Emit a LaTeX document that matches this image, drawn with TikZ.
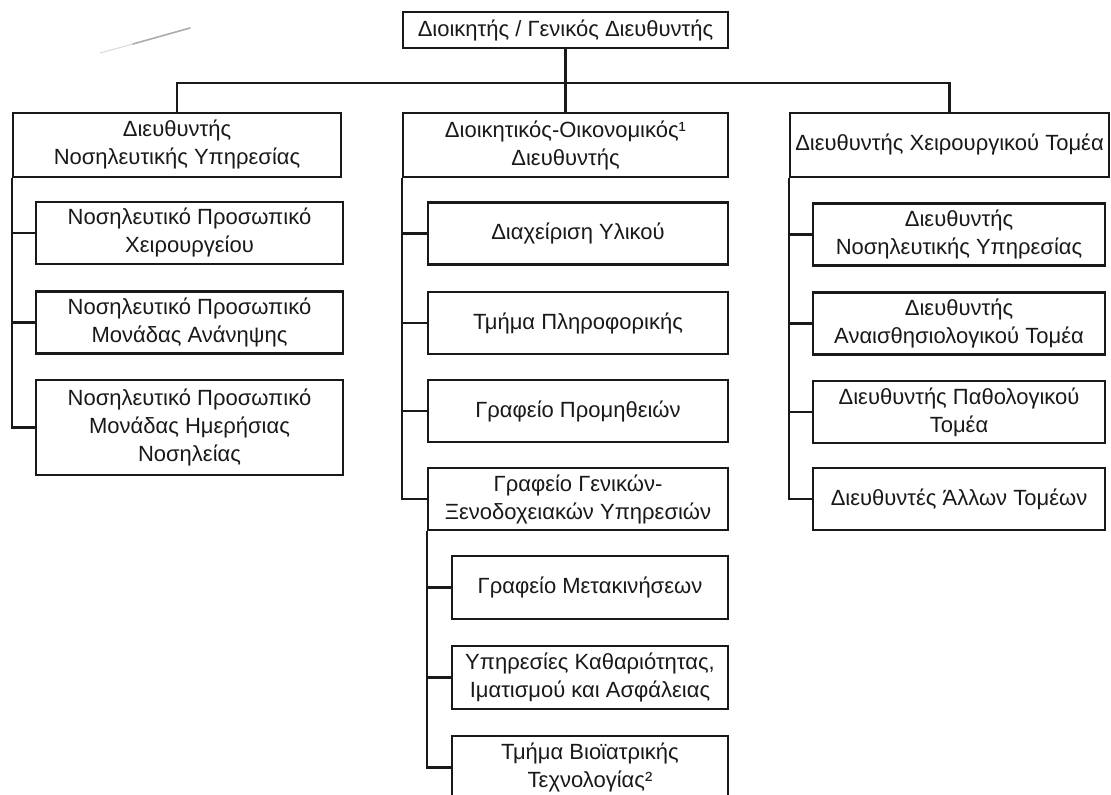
\documentclass[tikz,border=0pt]{standalone}
\usepackage{fontspec}
\setmainfont{Liberation Sans}

\begin{document}
\begin{tikzpicture}[x=0.5pt, y=-0.5pt,
  box/.style={draw=black!90, rectangle, line width=1.1pt, inner sep=2pt, align=center, text=black!90, font=\fontsize{11pt}{14pt}\selectfont},
  head/.style={box, minimum height=32pt},
  lchild/.style={box, minimum width=153.5pt, minimum height=31pt},
  mchild/.style={box, minimum width=150pt, minimum height=31pt},
  schild/.style={box, minimum width=138pt, minimum height=31.5pt},
  rchild/.style={box, minimum width=146pt, minimum height=31pt},
  link/.style={draw=black!90, line width=1.1pt}]
\useasboundingbox (0,0) rectangle (1111,795);
\clip (0,0) rectangle (1111,795);
\fill[white] (0,0) rectangle (1111,795);

% Pencil mark
\draw[gray!30, line width=0.5pt] (100,53) -- (133,44);
\draw[gray!65, line width=0.8pt, line cap=round] (133,44) -- (190,28);

% General manager
\node[box, minimum width=162.5pt, minimum height=18pt] (gm) at (565.5,30) {Διοικητής / Γενικός Διευθυντής};

% Directors
\node[head, minimum width=164pt] (dns) at (177,145) {Διευθυντής\\Νοσηλευτικής Υπηρεσίας};
\node[head, minimum width=162.5pt] (dao) at (565.5,145) {Διοικητικός-Οικονομικός¹\\Διευθυντής};
\node[head, minimum width=159.5pt] (dxt) at (949.5,145) {Διευθυντής Χειρουργικού Τομέα};

\coordinate (bus) at (565.5,83);
\draw[link] (gm.south) -- (dao.north);
\draw[link] (dns.north) |- (bus) -| (dxt.north);

% Nursing staff
\node[lchild] (ns1) at (189.5,233) {Νοσηλευτικό Προσωπικό\\Χειρουργείου};
\node[lchild] (ns2) at (189.5,322.5) {Νοσηλευτικό Προσωπικό\\Μονάδας Ανάνηψης};
\node[lchild, minimum height=47.5pt] (ns3) at (189.5,427.5) {Νοσηλευτικό Προσωπικό\\Μονάδας Ημερήσιας\\Νοσηλείας};

\draw[link] (dns.south west) |- (ns3.west);
\foreach \n in {ns1,ns2}
  \draw[link] (dns.south west |- \n.west) -- (\n.west);

% Administration
\node[mchild] (ad1) at (578,233.5) {Διαχείριση Υλικού};
\node[mchild] (ad2) at (578,323) {Τμήμα Πληροφορικής};
\node[mchild] (ad3) at (578,411) {Γραφείο Προμηθειών};
\node[mchild] (ad4) at (578,499) {Γραφείο Γενικών-\\Ξενοδοχειακών Υπηρεσιών};

\draw[link] (dao.south west) |- (ad4.west);
\foreach \n in {ad1,ad2,ad3}
  \draw[link] (dao.south west |- \n.west) -- (\n.west);

% General services
\node[schild] (gs1) at (590,587.5) {Γραφείο Μετακινήσεων};
\node[schild] (gs2) at (590,677.5) {Υπηρεσίες Καθαριότητας,\\Ιματισμού και Ασφάλειας};
\node[schild] (gs3) at (590,767.5) {Τμήμα Βιοϊατρικής\\Τεχνολογίας²};

\draw[link] (ad4.south west) |- (gs3.west);
\foreach \n in {gs1,gs2}
  \draw[link] (ad4.south west |- \n.west) -- (\n.west);

% Surgical sector
\node[rchild] (st1) at (959,234.5) {Διευθυντής\\Νοσηλευτικής Υπηρεσίας};
\node[rchild] (st2) at (959,323.5) {Διευθυντής\\Αναισθησιολογικού Τομέα};
\node[rchild] (st3) at (959,412) {Διευθυντής Παθολογικού\\Τομέα};
\node[rchild] (st4) at (959,499) {Διευθυντές Άλλων Τομέων};

\draw[link] (dxt.south west) |- (st4.west);
\foreach \n in {st1,st2,st3}
  \draw[link] (dxt.south west |- \n.west) -- (\n.west);

\end{tikzpicture}
\end{document}
